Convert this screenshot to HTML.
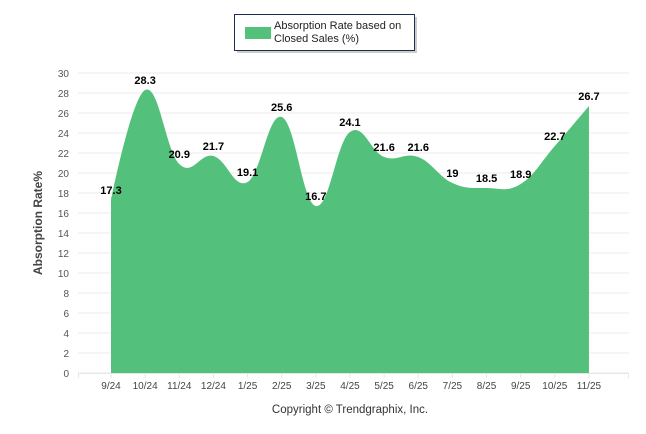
<!DOCTYPE html>
<html><head><meta charset="utf-8"><style>
html,body{margin:0;padding:0;background:#fff;}
svg{display:block;font-family:"Liberation Sans",Arial,sans-serif;}
</style></head><body>
<svg id="chart" width="646" height="434">
  <g id="grid"></g>
  <g id="yticks"></g>
  <path id="area" fill="#53c17b"/>
  <g id="labels"></g>
  <g id="xticks"></g>
  <text transform="translate(42,223) rotate(-90)" text-anchor="middle" font-size="12" font-weight="bold" fill="#444">Absorption Rate%</text>
  <g>
    <rect x="237" y="17" width="180" height="36" fill="#999" opacity="0.5"/>
    <rect x="234.5" y="14.5" width="180" height="36" fill="#fff" stroke="#1f2d4d" stroke-width="1"/>
    <rect x="245" y="27" width="26" height="12" fill="#53c17b"/>
    <text x="274" y="29" font-size="11" fill="#222">Absorption Rate based on</text>
    <text x="274" y="42" font-size="11" fill="#222">Closed Sales (%)</text>
  </g>
  <text x="350" y="413" text-anchor="middle" font-size="11.5" fill="#333">Copyright © Trendgraphix, Inc.</text>
</svg>
<script>
const categories=["9/24","10/24","11/24","12/24","1/25","2/25","3/25","4/25","5/25","6/25","7/25","8/25","9/25","10/25","11/25"];
const values=[17.3,28.3,20.9,21.7,19.1,25.6,16.7,24.1,21.6,21.6,19,18.5,18.9,22.7,26.7];
const yTicks=[0,2,4,6,8,10,12,14,16,18,20,22,24,26,28,30];
const NS="http://www.w3.org/2000/svg";
const x0=111,dx=34.14,yBase=373,yScale=10,gl=78,gr=629;
const X=i=>x0+i*dx, Y=v=>yBase-v*yScale;
function mk(t,a,p){const e=document.createElementNS(NS,t);for(const k in a)e.setAttribute(k,a[k]);p.appendChild(e);return e;}
const grid=document.getElementById('grid'),yt=document.getElementById('yticks');
yTicks.forEach(v=>{
  const l=mk('line',{x1:gl,x2:gr,y1:Y(v),y2:Y(v),stroke:'#ebebeb','stroke-width':1},grid);
  
  
  const t=mk('text',{x:69,y:Y(v)+4,'text-anchor':'end','font-size':10,fill:'#555'},yt);
  
  
  t.textContent=v;
});
const xt=document.getElementById('xticks');
mk('line',{x1:gl,x2:gr,y1:yBase+0.5,y2:yBase+0.5,stroke:'#e6e6e6'},xt);
mk('line',{x1:gl+0.5,x2:gl+0.5,y1:yBase,y2:yBase+5,stroke:'#e6e6e6'},xt);
mk('line',{x1:gr-0.5,x2:gr-0.5,y1:yBase,y2:yBase+5,stroke:'#e6e6e6'},xt);
categories.forEach((c,i)=>{
  mk('line',{x1:X(i),x2:X(i),y1:yBase,y2:yBase+5,stroke:'#e6e6e6'},xt);
  const t=mk('text',{x:X(i),y:yBase+16,'text-anchor':'middle','font-size':10,fill:'#444'},xt);
  
  
  t.textContent=c;
});
const pts=values.map((v,i)=>[X(i),Y(v)]);
let d=`M${pts[0][0]},${yBase} L${pts[0][0]},${pts[0][1]}`;
const s=1.5,den=s+1;
function ctrl(i){
  const p=pts[i],a=pts[i-1],b=pts[i+1];
  if(!a||!b)return null;
  let lx=(s*p[0]+a[0])/den,ly=(s*p[1]+a[1])/den,rx=(s*p[0]+b[0])/den,ry=(s*p[1]+b[1])/den;
  const corr=((ry-ly)*(rx-p[0]))/(rx-lx)+p[1]-ry;
  ly+=corr;ry+=corr;
  return {lx,ly,rx,ry};
}
for(let i=1;i<pts.length;i++){
  const c0=ctrl(i-1),c1=ctrl(i);
  const r=c0?[c0.rx,c0.ry]:pts[i-1];
  const l=c1?[c1.lx,c1.ly]:pts[i];
  d+=` C${r[0]},${r[1]} ${l[0]},${l[1]} ${pts[i][0]},${pts[i][1]}`;
}
d+=` L${pts[pts.length-1][0]},${yBase} Z`;
document.getElementById('area').setAttribute('d',d);
const lg=document.getElementById('labels');
values.forEach((v,i)=>{
  const t=mk('text',{x:X(i),y:Y(v)-6,'text-anchor':'middle','font-size':11,'font-weight':'bold',fill:'#000'},lg);
  
  
  t.textContent=v;
});
</script>
</body></html>
